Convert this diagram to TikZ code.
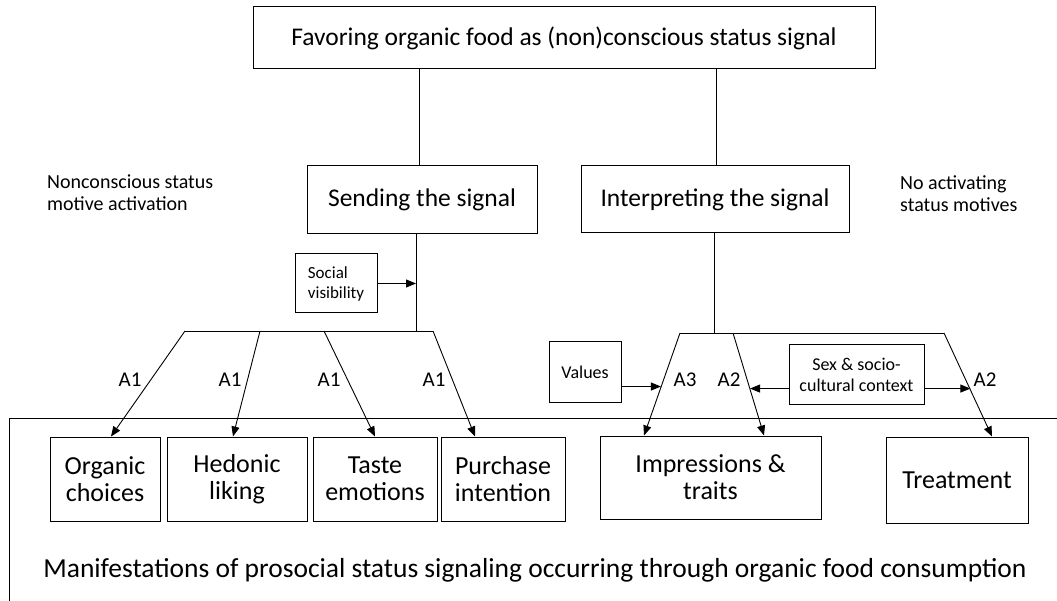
\documentclass[tikz,border=0pt]{standalone}
\usepackage{fontspec}
\setmainfont{Carlito}
\usetikzlibrary{arrows.meta,calc}
\begin{document}
\begin{tikzpicture}[x=1pt,y=-1pt,
  box/.style={draw,line width=1pt,inner sep=0pt,align=center,
    font=\fontsize{26}{27}\selectfont},
  smallbox/.style={draw,line width=1pt,inner sep=0pt,align=center,
    font=\fontsize{18}{21}\selectfont},
  link/.style={line width=0.9pt},
  arr/.style={line width=0.9pt,-{Triangle[length=10pt,width=8pt]}},
  lab/.style={font=\fontsize{21}{22}\selectfont,inner sep=0pt},
  side/.style={font=\fontsize{20}{22}\selectfont,align=left,inner sep=0pt,anchor=north west}]
\useasboundingbox (0,0) rectangle (1057,601);

% top level
\node[box,font=\fontsize{25.5}{27}\selectfont,minimum width=622,minimum height=62] (title) at (564,38)
  {Favoring organic food as (non)conscious status signal};
\node[box,font=\fontsize{25.5}{27}\selectfont,minimum width=230,minimum height=68] (send) at (422,200) {Sending the signal};
\node[box,font=\fontsize{25.5}{27}\selectfont,minimum width=268,minimum height=67] (interp) at (715,199.5) {Interpreting the signal};

\node[side] (nca) at (47,175) {Nonconscious status\\motive activation};
\node[side] (nam) at (900,175) {No activating\\status motives};

% moderators
\node[smallbox,font=\fontsize{17}{20}\selectfont,align=left,minimum width=82,minimum height=59] (soc) at (336,283.5) {Social\\visibility};
\node[smallbox,minimum width=72,minimum height=60] (val) at (585,372) {Values};
\node[smallbox,minimum width=135,minimum height=59] (sex) at (856.5,374.5) {Sex \& socio-\\cultural context};

% outcome boxes
\node[box,minimum width=110,minimum height=84] (org) at (105,479) {Organic\\choices};
\node[box,minimum width=140,minimum height=84] (hed) at (237,479) {Hedonic\\liking};
\node[box,minimum width=124,minimum height=84] (tas) at (375,479) {Taste\\emotions};
\node[box,minimum width=124,minimum height=84] (pur) at (503,479) {Purchase\\intention};
\node[box,minimum width=221,minimum height=83] (imp) at (710.5,477.5) {Impressions \&\\traits};
\node[box,minimum width=142,minimum height=86] (tre) at (957,480) {Treatment};

\node[font=\fontsize{27.5}{29}\selectfont,inner sep=0pt] (man) at (535,570)
  {Manifestations of prosocial status signaling occurring through organic food consumption};

% open frame around the manifestations
\coordinate (fa) at (9,418);
\coordinate (fb) at (1057,418);
\coordinate (fc) at (9,601);
\draw[link] (fb) -- (fa) -- (fc);

% stems from the title
\coordinate (sx) at (419,0);
\coordinate (ix) at (716,0);
\draw[link] (title.south -| sx) -- (send.north -| sx);
\draw[link] (title.south -| ix) -- (interp.north -| ix);

% sending branch
\coordinate (lb) at (416,331);
\coordinate (l1) at (185,331);
\coordinate (l2) at (260,331);
\coordinate (l3) at (324,331);
\coordinate (l4) at (433,331);
\draw[link] (send.south -| lb) -- (lb);
\draw[link] (l1) -- (l4);
\draw[arr] (soc.east) -- (soc.east -| lb);

\coordinate (t1) at (111,433);
\coordinate (t2) at (233,433);
\coordinate (t3) at (375,433);
\coordinate (t4) at (475,433);
\draw[arr] (l1) -- (org.north -| t1);
\draw[arr] (l2) -- (hed.north -| t2);
\draw[arr] (l3) -- (tas.north -| t3);
\draw[arr] (l4) -- (pur.north -| t4);
\node[lab] (a1a) at (130,380) {A1};
\node[lab] (a1b) at (230,380) {A1};
\node[lab] (a1c) at (329,380) {A1};
\node[lab] (a1d) at (434,380) {A1};

% interpreting branch
\coordinate (rb) at (714,333);
\coordinate (r1) at (680,333);
\coordinate (r2) at (733,333);
\coordinate (r3) at (944,333);
\draw[link] (interp.south -| rb) -- (rb);
\draw[link] (r1) -- (r3);

\coordinate (t5) at (644,434);
\coordinate (t6) at (764,434);
\coordinate (t7) at (992,434);
\draw[arr] (r1) -- (imp.north -| t5);
\draw[arr] (r2) -- (imp.north -| t6);
\draw[arr] (r3) -- (tre.north -| t7);

\coordinate (m3) at ($(r1)!0.53!(t5)$);
\coordinate (m2) at ($(r2)!0.55!(t6)$);
\coordinate (m4) at ($(r3)!0.55!(t7)$);
\draw[arr] (val.east |- m3) -- (m3);
\draw[arr] (sex.west |- m2) -- (m2);
\draw[arr] (sex.east |- m4) -- (m4);

\node[lab] (a3) at (685,380) {A3};
\node[lab] (a2a) at (729,380) {A2};
\node[lab] (a2b) at (985,380) {A2};
\end{tikzpicture}
\end{document}
